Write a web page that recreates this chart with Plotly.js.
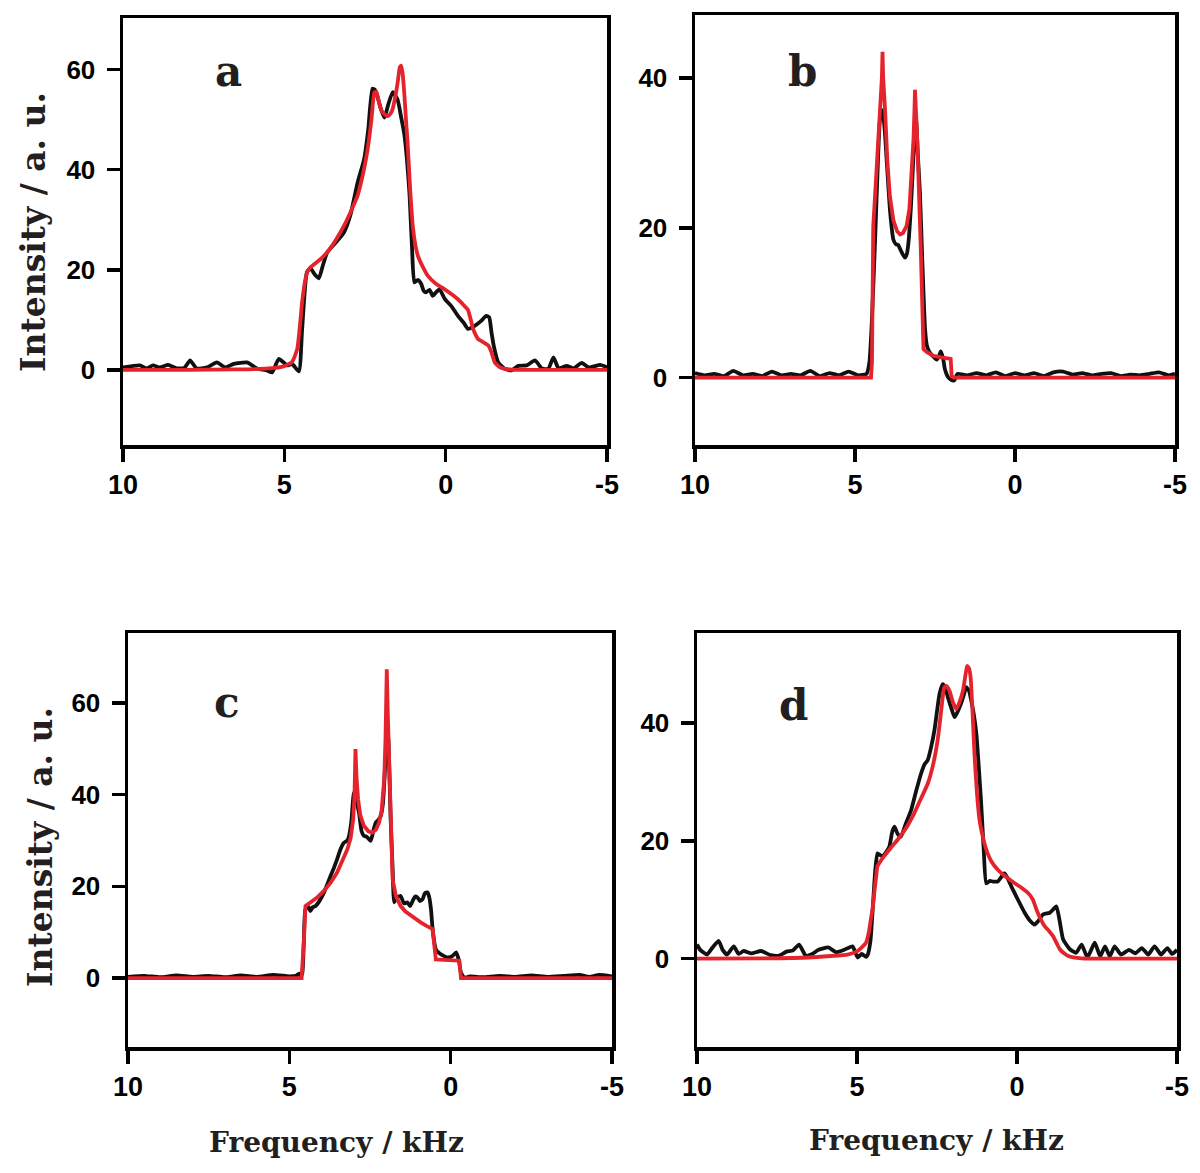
<!DOCTYPE html>
<html>
<head>
<meta charset="utf-8">
<script src="https://cdn.plot.ly/plotly-3.0.1.min.js"></script>
<style>html,body{margin:0;padding:0;background:#fff}#chart{width:1200px;height:1173px}</style>
</head>
<body>
<div id="chart"></div>
<script>
// ---- data: [frequency kHz, intensity a.u.] ----
const aExp = [[10,0.5],[9.48,0.9],[9.27,0.3],[9.07,0.9],[8.86,0.5],[8.6,1.0],[8.34,0.3],[8.1,0.4],[7.92,1.9],[7.72,0.3],[7.4,0.5],[7.09,1.5],[6.83,0.5],[6.57,1.2],[6.16,1.5],[5.85,0.3],[5.54,-0.1],[5.38,-0.5],[5.17,2.2],[4.91,0.9],[4.76,1.2],[4.55,-0.3],[4.45,8],[4.3,19.5],[4.19,20.3],[4.05,19],[3.93,18.3],[3.8,21],[3.67,23.5],[3.4,25.5],[3.15,27.5],[2.95,31],[2.73,37.4],[2.53,42],[2.4,48],[2.27,56.2],[2.2,56],[2.11,54.5],[2.0,52],[1.9,50.4],[1.78,53],[1.64,55.5],[1.49,54],[1.38,50.5],[1.28,47],[1.2,42],[1.12,35],[1.04,24],[0.97,17.5],[0.86,18],[0.76,17.2],[0.68,15.8],[0.61,15.5],[0.5,16],[0.4,14.8],[0.3,15.5],[0.19,16.1],[0.03,14.2],[-0.17,12.8],[-0.38,10.8],[-0.55,9.5],[-0.69,8.2],[-0.9,8.8],[-1.1,9.8],[-1.26,10.8],[-1.35,10.5],[-1.42,7.5],[-1.5,4.5],[-1.63,1.5],[-1.83,0.2],[-2.04,-0.1],[-2.25,0.8],[-2.51,0.9],[-2.77,1.9],[-2.98,0.3],[-3.18,0.2],[-3.34,2.5],[-3.5,0.3],[-3.75,0.8],[-3.96,0.3],[-4.22,1.4],[-4.43,0.5],[-4.79,1.0],[-5,0.5]];
const aFit = [[10,0],[8,0],[6.5,0.1],[5.74,0.2],[5.3,0.4],[5.02,0.7],[4.76,1.6],[4.6,4.2],[4.5,10],[4.45,13.5],[4.35,18],[4.29,19.5],[4.19,20.5],[3.9,22],[3.67,23.5],[3.4,26],[3.15,28.8],[2.95,31.5],[2.73,34.8],[2.55,39.5],[2.42,44],[2.3,50],[2.21,55.4],[2.15,55.6],[2.11,54.7],[2.03,52.5],[1.95,51.4],[1.8,50.7],[1.7,51.3],[1.64,52.2],[1.55,55],[1.49,57.3],[1.42,60.5],[1.38,60.8],[1.33,59],[1.28,55],[1.23,50],[1.18,45.4],[1.1,36],[1.02,28.8],[0.94,25],[0.86,22.8],[0.7,20.5],[0.55,18.8],[0.3,17.2],[0.03,16.1],[-0.25,14.8],[-0.48,13.5],[-0.62,12.5],[-0.69,12.0],[-0.78,10],[-0.85,8.2],[-0.93,7],[-1.0,6.2],[-1.15,5.6],[-1.32,4.9],[-1.42,3.5],[-1.52,1.5],[-1.63,0.8],[-1.73,0.4],[-2.04,0.05],[-3,0],[-5,0]];

const bExp = [[10,0.6],[9.7,0.3],[9.4,0.5],[9.1,0.2],[8.8,0.9],[8.5,0.3],[8.2,0.5],[7.9,0.2],[7.6,0.8],[7.3,0.3],[7.0,0.5],[6.7,0.3],[6.4,0.9],[6.1,0.2],[5.8,0.6],[5.5,0.3],[5.2,0.8],[4.9,0.3],[4.64,0.5],[4.55,2],[4.48,6.9],[4.43,12],[4.375,18],[4.3,27],[4.22,34.4],[4.14,35.7],[4.07,33],[4.01,29],[3.9,22],[3.8,18.4],[3.72,17.8],[3.65,17.7],[3.55,16.8],[3.44,16],[3.38,16.5],[3.33,18],[3.25,23],[3.18,29],[3.12,33.5],[3.09,34.4],[3.04,30],[2.97,24.6],[2.9,16],[2.81,6.4],[2.75,4.2],[2.66,3.3],[2.55,2.8],[2.45,2.4],[2.38,2.8],[2.32,3.5],[2.25,2.6],[2.19,1.1],[2.1,0.1],[2.03,-0.2],[1.9,-0.4],[1.8,0.5],[1.5,0.3],[1.2,0.6],[0.9,0.3],[0.6,0.7],[0.3,0.2],[0,0.6],[-0.3,0.3],[-0.6,0.6],[-0.9,0.2],[-1.2,0.7],[-1.5,0.8],[-1.8,0.4],[-2.1,0.6],[-2.4,0.3],[-2.7,0.5],[-3.0,0.6],[-3.3,0.2],[-3.6,0.4],[-3.9,0.3],[-4.2,0.5],[-4.5,0.7],[-4.8,0.3],[-5,0.5]];
const bFit = [[10,0],[4.5,0],[4.47,2],[4.43,20.2],[4.35,26],[4.27,31.3],[4.2,36],[4.16,40],[4.14,43.5],[4.12,40],[4.06,35.7],[3.99,29],[3.91,24.2],[3.8,21],[3.68,19.5],[3.59,19.1],[3.5,19.3],[3.39,20.2],[3.3,22.5],[3.23,26.8],[3.17,32],[3.14,36],[3.125,38.4],[3.1,36],[3.05,31.3],[2.95,18],[2.9,10],[2.86,3.8],[2.75,3.4],[2.55,2.9],[2.3,2.7],[2.01,2.5],[1.98,0.2],[1.9,0],[-5,0]];

const cExp = [[10,0.3],[9.5,0.5],[9.0,0.2],[8.5,0.6],[8.0,0.3],[7.5,0.5],[7.0,0.2],[6.5,0.6],[6.0,0.3],[5.5,0.7],[5.0,0.4],[4.8,0.5],[4.7,1.0],[4.66,0.4],[4.6,1],[4.55,8],[4.5,15],[4.4,15.5],[4.35,14.6],[4.27,15.5],[4.19,15.7],[4.05,17],[3.93,18.6],[3.82,20.5],[3.72,22.3],[3.62,24],[3.52,25.9],[3.42,28],[3.31,29.5],[3.2,30],[3.15,31],[3.08,34],[3.0,40.4],[2.94,39],[2.84,36],[2.76,32],[2.69,31],[2.6,30.8],[2.48,29.9],[2.4,32],[2.32,33.9],[2.24,34.5],[2.17,35.3],[2.1,38],[2.01,48.4],[1.94,52.8],[1.9,45],[1.86,34.6],[1.8,24],[1.75,16.5],[1.68,17.5],[1.55,17.9],[1.45,16.3],[1.34,16.5],[1.26,15.7],[1.18,16.8],[1.1,17.8],[1.03,17.6],[0.95,16.8],[0.87,17.2],[0.8,18.5],[0.72,18.7],[0.66,17.5],[0.61,15],[0.55,10],[0.46,6.3],[0.38,5.6],[0.3,5.2],[0.2,4.8],[0.09,4.5],[-0.05,4.8],[-0.17,5.6],[-0.25,4],[-0.32,1.2],[-0.42,0.1],[-0.6,0.4],[-1,0.2],[-1.5,0.5],[-2,0.3],[-2.5,0.6],[-3,0.3],[-3.5,0.5],[-4,0.7],[-4.3,0.3],[-4.6,0.7],[-5,0.4]];
const cFit = [[10,0],[4.62,0],[4.55,8],[4.5,15.7],[4.35,16.5],[4.15,17.5],[3.93,19],[3.72,20.8],[3.52,23],[3.35,25.5],[3.2,28.1],[3.1,30.5],[3.02,34.6],[2.98,40],[2.95,49.9],[2.92,44],[2.87,39],[2.8,35.5],[2.69,33.2],[2.55,32],[2.43,31.7],[2.32,32.3],[2.22,33.9],[2.14,36.5],[2.06,43.3],[2.02,52],[1.98,67.3],[1.95,58],[1.91,49.1],[1.86,33],[1.8,21.6],[1.7,18],[1.55,15.7],[1.4,14.5],[1.23,13.6],[1.05,12.7],[0.92,12.1],[0.75,11.4],[0.56,10.7],[0.46,4.1],[0.2,4.0],[-0.27,3.8],[-0.32,0],[-5,0]];

const dExp = [[10,2.4],[9.9,1.5],[9.69,0.7],[9.5,2],[9.32,3.0],[9.2,1.5],[9.06,0.7],[8.85,2.1],[8.7,0.8],[8.54,1.3],[8.3,0.9],[8.0,1.3],[7.7,0.6],[7.44,0.5],[7.2,1.2],[7.0,1.4],[6.81,2.4],[6.6,0.5],[6.4,0.8],[6.2,1.5],[5.9,1.9],[5.65,1.1],[5.4,1.5],[5.14,2.1],[4.98,0.2],[4.85,0.8],[4.72,0.3],[4.67,0.6],[4.58,3],[4.51,8.3],[4.43,15],[4.36,17.9],[4.28,17.6],[4.2,17.4],[4.1,18],[3.99,19],[3.9,21.5],[3.83,22.4],[3.73,21.2],[3.63,20.7],[3.47,23],[3.31,25.2],[3.15,28.5],[3.0,31.4],[2.89,33],[2.79,33.7],[2.68,36],[2.58,38.8],[2.5,42],[2.42,45],[2.32,46.6],[2.24,46],[2.16,44.4],[2.05,42.5],[1.95,41],[1.85,42],[1.75,43.3],[1.65,45],[1.59,46.1],[1.5,45.5],[1.43,43.8],[1.35,41.5],[1.27,38.2],[1.2,33],[1.12,26.4],[1.04,18.5],[0.96,12.8],[0.85,13.2],[0.75,13.1],[0.6,13.1],[0.5,13.8],[0.39,14.5],[0.28,13.5],[0.18,12.3],[0.08,11.2],[-0.03,10],[-0.24,7.8],[-0.4,6.5],[-0.55,5.8],[-0.68,6.5],[-0.81,7.5],[-1.02,7.8],[-1.12,8.3],[-1.23,8.9],[-1.33,6.5],[-1.44,3.3],[-1.65,1.6],[-1.85,1.0],[-2.02,2.4],[-2.2,0.2],[-2.43,2.7],[-2.6,0.4],[-2.75,2.1],[-2.9,0.4],[-3.05,2.1],[-3.25,0.7],[-3.5,1.5],[-3.7,0.9],[-3.9,1.8],[-4.1,0.7],[-4.3,2.1],[-4.5,0.7],[-4.7,1.8],[-4.85,0.8],[-5,1.5]];
const dFit = [[10,0],[8,0.05],[6.5,0.2],[5.82,0.45],[5.3,0.7],[4.98,1.3],[4.72,2.7],[4.63,4.5],[4.57,6.6],[4.5,9],[4.46,11.2],[4.4,14],[4.36,15.7],[4.25,16.7],[4.15,17.4],[3.95,18.8],[3.73,20.2],[3.45,22.3],[3.21,24.7],[3.0,27.2],[2.79,29.7],[2.62,33],[2.48,37.1],[2.37,42],[2.27,46.1],[2.2,46.3],[2.11,45.5],[2.0,43.5],[1.9,42.4],[1.8,43.5],[1.69,45.5],[1.6,48.5],[1.56,49.7],[1.5,49.3],[1.45,47.8],[1.39,42],[1.33,34.8],[1.25,28],[1.17,23.5],[1.06,20.5],[0.96,18.5],[0.8,16.5],[0.6,15.1],[0.35,13.9],[0.07,12.8],[-0.15,12.0],[-0.34,11.2],[-0.5,10],[-0.61,8.3],[-0.75,6.6],[-0.87,5.5],[-1.0,4.7],[-1.13,3.8],[-1.25,2.5],[-1.34,1.6],[-1.47,0.9],[-1.6,0.45],[-2.02,0.05],[-3,0],[-5,0]];

const xTicks = [10, 5, 0, -5];
const yTicksA = [0, 20, 40, 60];
const yTicksB = [0, 20, 40];
const yTicksC = [0, 20, 40, 60];
const yTicksD = [0, 20, 40];
const panelLetters = ['a', 'b', 'c', 'd'];
const yTitleText = 'Intensity / a. u.';
const xTitleText = 'Frequency / kHz';

// ---- styling ----
const BLACK = '#111111';
const RED = '#e5232d';
const W = 1200, H = 1173;
const px = v => v / W;
const py = v => 1 - v / H;

function tr(pairs, color, xa, ya, smooth) {
  return {
    x: pairs.map(p => p[0]), y: pairs.map(p => p[1]),
    xaxis: xa, yaxis: ya, type: 'scatter', mode: 'lines',
    line: smooth ? {color: color, width: 3.8, shape: 'spline', smoothing: 0.5}
                 : {color: color, width: 3.8, shape: 'linear'},
    hoverinfo: 'skip', showlegend: false
  };
}

const data = [
  tr(aExp, BLACK, 'x', 'y', true), tr(aFit, RED, 'x', 'y', true),
  tr(bExp, BLACK, 'x2', 'y2', true), tr(bFit, RED, 'x2', 'y2', false),
  tr(cExp, BLACK, 'x3', 'y3', true), tr(cFit, RED, 'x3', 'y3', false),
  tr(dExp, BLACK, 'x4', 'y4', true), tr(dFit, RED, 'x4', 'y4', true)
];

const tickFontX = {family: 'Liberation Sans, Arial, sans-serif', size: 27, color: '#000', weight: 'bold'};
const tickFontY = {family: 'Liberation Sans, Arial, sans-serif', size: 26, color: '#000', weight: 'bold'};

function xAxis(dom, anchor) {
  return {domain: dom, anchor: anchor, range: [10, -5], tickmode: 'array', tickvals: xTicks,
    ticktext: xTicks.map(String), showline: true, mirror: true, linecolor: '#000', linewidth: 3.5,
    ticks: 'outside', ticklen: 13, tickwidth: 3.5, tickcolor: '#000', showgrid: false, zeroline: false,
    tickfont: tickFontX, fixedrange: true};
}
function yAxis(dom, anchor, rng, tv) {
  return {domain: dom, anchor: anchor, range: rng, tickmode: 'array', tickvals: tv,
    ticktext: tv.map(String), showline: true, mirror: true, linecolor: '#000', linewidth: 3.5,
    ticks: 'outside', ticklen: 13, tickwidth: 3.5, tickcolor: '#000', showgrid: false, zeroline: false,
    tickfont: tickFontY, ticklabelstandoff: 6, fixedrange: true};
}

const letterFont = {family: 'DejaVu Serif, serif', size: 42, color: '#231f20', weight: 'bold'};
const titleFontY = {family: 'DejaVu Serif, serif', size: 33, color: '#231f20', weight: 'bold'};
const titleFontX = {family: 'DejaVu Serif, serif', size: 28, color: '#231f20', weight: 'bold'};

function ann(text, x, y, font, angle) {
  return {text: text, xref: 'paper', yref: 'paper', x: px(x), y: py(y), xanchor: 'center', yanchor: 'middle',
    showarrow: false, font: font, textangle: angle || 0};
}

const layout = {
  width: W, height: H, margin: {l: 0, r: 0, t: 0, b: 0},
  paper_bgcolor: '#fff', plot_bgcolor: '#fff', showlegend: false,
  xaxis: xAxis([px(123), px(607)], 'y'),
  yaxis: yAxis([py(445), py(18)], 'x', [-15, 70.3], yTicksA),
  xaxis2: xAxis([px(695), px(1175)], 'y2'),
  yaxis2: yAxis([py(445), py(15)], 'x2', [-9, 48.4], yTicksB),
  xaxis3: xAxis([px(128), px(612)], 'y3'),
  yaxis3: yAxis([py(1047), py(633)], 'x3', [-15, 75.2], yTicksC),
  xaxis4: xAxis([px(697), px(1177)], 'y4'),
  yaxis4: yAxis([py(1047), py(633)], 'x4', [-15, 55.3], yTicksD),
  annotations: [
    ann(panelLetters[0], 228, 72, letterFont),
    ann(panelLetters[1], 802, 72, letterFont),
    ann(panelLetters[2], 227, 703, letterFont),
    ann(panelLetters[3], 793, 705, letterFont),
    ann(yTitleText, 33, 232, titleFontY, -90),
    ann(yTitleText, 40, 847, titleFontY, -90),
    ann(xTitleText, 336, 1142, titleFontX),
    ann(xTitleText, 936, 1140, titleFontX)
  ]
};

Plotly.newPlot('chart', data, layout, {displayModeBar: false, staticPlot: true});
</script>
</body>
</html>
